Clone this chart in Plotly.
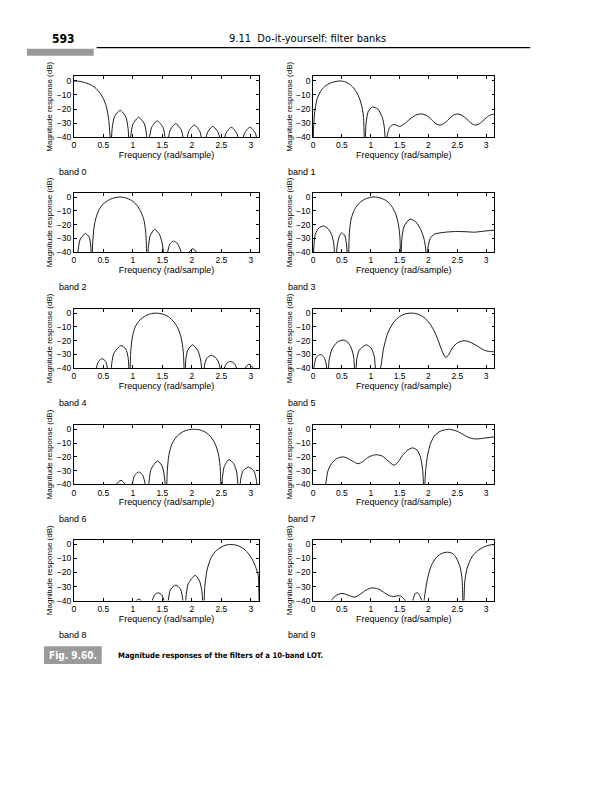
import math
import plotly.graph_objects as go

W, H = 608, 800

# ---------------- data (frequency in rad/sample, magnitude in dB) ----------------
band0_w = [0, 0.1, 0.2, 0.3, 0.38, 0.45, 0.5, 0.55, 0.59, 0.615, 0.628,
           0.65, 0.69, 0.785, 0.88, 0.92, 0.942,
           0.965, 1.005, 1.10, 1.195, 1.235, 1.257,
           1.28, 1.32, 1.414, 1.51, 1.55, 1.571,
           1.594, 1.634, 1.728, 1.822, 1.862, 1.885,
           1.908, 1.948, 2.042, 2.136, 2.176, 2.199,
           2.222, 2.262, 2.356, 2.45, 2.49, 2.513,
           2.536, 2.576, 2.670, 2.764, 2.804, 2.827,
           2.85, 2.89, 2.985, 3.08, 3.115, 3.1416]
band0_db = [0, -0.3, -1.3, -3, -5.5, -9, -12.5, -18, -27, -40, -50,
            -34, -25.5, -21, -25.5, -34, -50,
            -39, -30.5, -26, -30.5, -39, -50,
            -41.5, -33, -28.5, -33, -41.5, -50,
            -43.5, -35, -30.5, -35, -43.5, -50,
            -44.5, -36, -31.5, -36, -44.5, -50,
            -45.5, -37, -32.5, -37, -45.5, -50,
            -46, -37.5, -33, -37.5, -46, -50,
            -46, -37.5, -33, -37.5, -46, -50]

band1_w = [0, 0.012, 0.03, 0.07, 0.13, 0.2, 0.3, 0.4, 0.47, 0.55, 0.63, 0.7, 0.76, 0.81, 0.85, 0.875, 0.895,
           0.92, 0.955, 1.03, 1.12, 1.2, 1.235, 1.265,
           1.29, 1.33, 1.4, 1.5, 1.6, 1.7, 1.8, 1.88, 1.96, 2.05, 2.13, 2.2, 2.28, 2.37, 2.45, 2.51,
           2.58, 2.67, 2.75, 2.82, 2.9, 2.98, 3.06, 3.1416]
band1_db = [-48, -32, -22, -13, -7.5, -4, -1.5, -0.3, 0, -0.5, -2.2, -4.8, -8.5, -13, -19, -26, -50,
            -30, -22, -18.5, -20, -26, -33, -50,
            -38, -33, -31, -32.5, -30, -26.5, -24, -23.5, -24.5, -27.5, -30.5, -31.5, -30, -26.5, -24, -23.5,
            -24.5, -27.5, -30.5, -31.5, -30, -27, -24.5, -23.5]

band2_w = [0, 0.04, 0.075, 0.11, 0.2, 0.26, 0.285, 0.305,
           0.32, 0.34, 0.37, 0.43, 0.5, 0.6, 0.7, 0.78, 0.88, 0.98, 1.07, 1.14, 1.19, 1.22, 1.245,
           1.265, 1.295, 1.37, 1.45, 1.5, 1.545,
           1.59, 1.63, 1.69, 1.76, 1.82, 1.865,
           1.95, 2.02, 2.08, 2.17, 3.1416]
band2_db = [-55, -48, -38, -30.5, -26.5, -29, -34, -50,
            -34, -23, -16, -9, -5, -2, -0.4, 0, -0.6, -2.5, -6, -11, -17, -26, -50,
            -36, -28, -23.5, -27, -34, -50,
            -40, -34, -32, -34, -40, -50,
            -40, -37.5, -40, -50, -50]

band3_w = [0, 0.015, 0.04, 0.1, 0.18, 0.26, 0.32, 0.36, 0.385,
           0.42, 0.46, 0.5, 0.55, 0.58, 0.61,
           0.63, 0.66, 0.72, 0.8, 0.9, 1.0, 1.08, 1.18, 1.28, 1.36, 1.43, 1.48, 1.505, 1.52,
           1.54, 1.58, 1.68, 1.78, 1.86, 1.92, 1.95, 1.97,
           1.99, 2.03, 2.1, 2.2, 2.35, 2.5, 2.65, 2.8, 2.95, 3.1416]
band3_db = [-48, -36, -27, -22.5, -21, -23, -27, -34, -50,
            -35, -28, -26, -28, -34, -50,
            -26, -16, -9, -4.5, -1.5, -0.2, 0, -0.8, -3, -6.5, -12, -20, -29, -50,
            -30, -21, -16, -18, -23, -30, -37, -50,
            -37, -30, -27, -26, -25.3, -25, -25.2, -25.5, -24.8, -24]

band4_w = [0, 0.31, 0.38, 0.42, 0.48, 0.54, 0.57, 0.615,
           0.645, 0.68, 0.8, 0.88, 0.92, 0.945,
           0.965, 0.99, 1.04, 1.12, 1.22, 1.32, 1.4, 1.5, 1.6, 1.7, 1.77, 1.82, 1.855, 1.88,
           1.9, 1.93, 2.01, 2.1, 2.15, 2.19,
           2.215, 2.25, 2.33, 2.42, 2.47, 2.5,
           2.55, 2.59, 2.65, 2.72, 2.76, 2.82,
           2.9, 2.97, 3.04, 3.1416]
band4_db = [-50, -50, -40, -35, -33, -35, -40, -50,
            -36, -29, -23.5, -26, -32, -50,
            -28, -18, -10, -5, -1.8, -0.3, 0, -0.6, -2.5, -6.5, -11.5, -18, -28, -50,
            -33, -27, -23, -27, -34, -50,
            -38, -33, -30.5, -33, -38, -50,
            -40, -36.5, -35, -36.5, -40, -50,
            -40, -37, -40, -50]

band5_w = [0, 0.02, 0.06, 0.13, 0.19, 0.23, 0.255,
           0.28, 0.33, 0.42, 0.52, 0.6, 0.66, 0.705, 0.73,
           0.76, 0.8, 0.92, 1.0, 1.06, 1.1,
           1.17, 1.22, 1.3, 1.4, 1.5, 1.6, 1.72, 1.82, 1.92, 2.02, 2.1, 2.17, 2.23, 2.29, 2.31,
           2.35, 2.42, 2.5, 2.62, 2.72, 2.85, 2.97, 3.06, 3.1416]
band5_db = [-48, -38, -32, -30, -32, -37, -50,
            -34, -26, -21, -19.5, -21, -25, -32, -50,
            -33, -27, -23, -25, -31, -50,
            -40, -26, -14, -6.5, -2.5, -0.5, 0, -0.8, -3, -7.5, -13, -20, -27, -31.8, -32,
            -30, -25, -21.5, -20, -21, -24, -27, -27.8, -28]

band6_w = [0, 0.66, 0.72, 0.8, 0.87, 0.94,
           0.99, 1.03, 1.1, 1.17, 1.21, 1.25,
           1.27, 1.31, 1.42, 1.5, 1.54, 1.565,
           1.585, 1.61, 1.66, 1.74, 1.84, 1.94, 2.04, 2.14, 2.24, 2.33, 2.4, 2.45, 2.48, 2.5,
           2.52, 2.55, 2.63, 2.71, 2.76, 2.8,
           2.83, 2.87, 2.96, 3.05, 3.09, 3.13]
band6_db = [-50, -50, -40, -37, -40, -50,
            -40, -33.5, -31, -33.5, -40, -50,
            -40, -29, -23, -27, -36, -50,
            -30, -19, -11, -5.5, -2, -0.4, 0, -0.5, -2.3, -6, -11, -18, -27, -50,
            -35, -27, -22, -25, -31, -50,
            -36, -30, -27.5, -30, -36, -50]

band7_w = [0, 0.18, 0.22, 0.26, 0.32, 0.4, 0.52, 0.62, 0.7, 0.78, 0.86, 0.95, 1.05, 1.12, 1.2, 1.3,
           1.4, 1.46, 1.55, 1.63, 1.72, 1.8, 1.86, 1.9, 1.925,
           1.95, 1.98, 2.03, 2.1, 2.2, 2.35, 2.5, 2.6, 2.7, 2.8, 2.9, 3.0, 3.1416]
band7_db = [-50, -50, -40, -30, -25, -21.5, -20, -21.5, -23.5, -25, -23.5, -20.5, -18.7, -18.5, -19.5, -23,
            -26, -24.5, -19, -15.5, -13.5, -15, -20, -30, -50,
            -30, -20, -11, -5, -1.5, 0, -1.5, -3.8, -6, -7, -6.8, -6.2, -5.5]

band8_w = [0, 1.0, 1.06, 1.1, 1.14, 1.22,
           1.33, 1.37, 1.43, 1.49, 1.53, 1.57,
           1.6, 1.64, 1.73, 1.81, 1.85, 1.885,
           1.9, 1.94, 2.06, 2.13, 2.17, 2.2,
           2.22, 2.26, 2.32, 2.4, 2.5, 2.58, 2.66, 2.76, 2.86, 2.95, 3.03, 3.09, 3.125, 3.1416]
band8_db = [-50, -50, -40, -39, -40, -50,
            -40, -36, -34.5, -36, -40, -50,
            -40, -32, -29, -32, -40, -50,
            -38, -28, -22, -26, -33, -50,
            -30, -18, -10, -5, -1.8, -0.4, 0, -0.6, -2.5, -6, -11, -17, -22, -48]

band9_w = [0, 0.25, 0.32, 0.38, 0.45, 0.52, 0.6, 0.72, 0.82, 0.92, 1.02, 1.12, 1.22, 1.32, 1.4, 1.47,
           1.52, 1.58, 1.62, 1.68,
           1.73, 1.77, 1.81, 1.85, 1.88, 1.9,
           1.93, 1.98, 2.05, 2.14, 2.24, 2.33, 2.42, 2.48, 2.54, 2.58, 2.605,
           2.63, 2.67, 2.75, 2.85, 2.95, 3.05, 3.1416]
band9_db = [-50, -50, -40, -37, -35.3, -35, -36, -37.6, -35.5, -32.5, -31, -31.6, -34, -36.5, -37.2, -36.5,
            -36.8, -39, -42, -50,
            -40, -35, -34.5, -36.5, -40, -50,
            -38, -25, -15, -9, -6.2, -5.5, -6.5, -9.5, -15, -24, -50,
            -26, -17, -9, -4.5, -2, -0.5, 0]

bands_w = [band0_w, band1_w, band2_w, band3_w, band4_w, band5_w, band6_w, band7_w, band8_w, band9_w]
bands_db = [band0_db, band1_db, band2_db, band3_db, band4_db, band5_db, band6_db, band7_db, band8_db, band9_db]
band_labels = ["band 0", "band 1", "band 2", "band 3", "band 4",
               "band 5", "band 6", "band 7", "band 8", "band 9"]

x_ticks = [0, 0.5, 1, 1.5, 2, 2.5, 3]
x_tick_labels = ["0", "0.5", "1", "1.5", "2", "2.5", "3"]
y_ticks = [0, -10, -20, -30, -40]
y_tick_labels = ["0", "\u221210", "\u221220", "\u221230", "\u221240"]

x_title = "Frequency (rad/sample)"
y_title = "Magnitude response (dB)"
page_number = "593"
header_text = "9.11  Do-it-yourself: filter banks"
fig_tag = "Fig. 9.60."
caption_text = "Magnitude responses of the filters of a 10-band LOT."

# ---------------- layout (page pixels) ----------------
col_px = [(72, 258), (312, 494)]
row_px = [(76, 137), (193, 253), (310, 370), (427, 487), (543, 604)]
band_label_dx = [55, 285]
band_label_dy = 35
PAGE_OFFSET = 8  # the browser's default body margin

AX_FAMILY = "Liberation Sans, Arial, sans-serif"
TICK_FONT = dict(family=AX_FAMILY, size=8.5, color="black")
XTITLE_FONT = dict(family=AX_FAMILY, size=9, color="black")
YTITLE_FONT = dict(family=AX_FAMILY, size=8, color="black")
HDR_FONT = "Liberation Sans Narrow, DejaVu Sans Condensed, Open Sans, sans-serif"


def px_x(x):
    return (x - PAGE_OFFSET) / W


def px_y(y):
    return 1 - (y - PAGE_OFFSET) / H


fig = go.Figure()
annotations = []
for i in range(10):
    r, c = divmod(i, 2)
    n = i + 1
    xa = "x" if n == 1 else f"x{n}"
    ya = "y" if n == 1 else f"y{n}"
    fig.add_trace(go.Scatter(
        x=bands_w[i], y=bands_db[i], mode="lines",
        line=dict(color="black", width=0.9, shape="spline", smoothing=0.7),
        xaxis=xa, yaxis=ya, showlegend=False, hoverinfo="skip"))
    x0, x1 = col_px[c]
    y0, y1 = row_px[r]
    xkey = "xaxis" if n == 1 else f"xaxis{n}"
    ykey = "yaxis" if n == 1 else f"yaxis{n}"
    fig.layout[xkey] = dict(
        domain=[px_x(x0), px_x(x1)], anchor=ya, range=[0, math.pi],
        tickmode="array", tickvals=x_ticks, ticktext=x_tick_labels,
        ticks="inside", ticklen=3, tickwidth=0.8, tickcolor="black",
        showline=True, linecolor="black", linewidth=0.8, mirror="ticks",
        showgrid=False, zeroline=False, tickfont=TICK_FONT,
        title=dict(text=x_title, font=XTITLE_FONT, standoff=2))
    fig.layout[ykey] = dict(
        domain=[px_y(y1), px_y(y0)], anchor=xa, range=[-40, 3.2],
        tickmode="array", tickvals=y_ticks, ticktext=y_tick_labels,
        ticks="inside", ticklen=3, tickwidth=0.8, tickcolor="black",
        showline=True, linecolor="black", linewidth=0.8, mirror="ticks",
        showgrid=False, zeroline=False, tickfont=TICK_FONT,
        title=dict(text=y_title, font=YTITLE_FONT, standoff=2))
    annotations.append(dict(
        text=band_labels[i], xref="paper", yref="paper",
        x=px_x(band_label_dx[c]), y=px_y(y1 + band_label_dy),
        xanchor="left", yanchor="middle", showarrow=False,
        font=dict(family=AX_FAMILY, size=9, color="black")))

# header
annotations.append(dict(text=f"<b>{page_number}</b>", xref="paper", yref="paper",
                        x=px_x(48), y=px_y(38), xanchor="left", yanchor="middle", showarrow=False,
                        font=dict(family=HDR_FONT, size=12, color="black")))
annotations.append(dict(text=header_text, xref="paper", yref="paper",
                        x=px_x(306), y=px_y(38), xanchor="center", yanchor="middle", showarrow=False,
                        font=dict(family=HDR_FONT, size=11, color="black")))
# caption
annotations.append(dict(text=f"<b>{fig_tag}</b>", xref="paper", yref="paper",
                        x=px_x(71), y=px_y(659), xanchor="center", yanchor="middle", showarrow=False,
                        font=dict(family=HDR_FONT, size=10, color="white")))
annotations.append(dict(text=f"<b>{caption_text}</b>", xref="paper", yref="paper",
                        x=px_x(114), y=px_y(659), xanchor="left", yanchor="middle", showarrow=False,
                        font=dict(family=HDR_FONT, size=7.7, color="black")))

shapes = [
    dict(type="line", xref="paper", yref="paper", x0=px_x(95), x1=px_x(530), y0=px_y(47), y1=px_y(47),
         line=dict(color="black", width=1.2)),
    dict(type="rect", xref="paper", yref="paper", x0=px_x(25), x1=px_x(92), y0=px_y(55), y1=px_y(48),
         fillcolor="#9a9a9a", line=dict(width=0)),
    dict(type="rect", xref="paper", yref="paper", x0=px_x(42), x1=px_x(100), y0=px_y(668), y1=px_y(650),
         fillcolor="#9a9a9a", line=dict(width=0)),
]

fig.update_layout(
    width=W, height=H, margin=dict(l=0, r=0, t=0, b=0),
    paper_bgcolor="white", plot_bgcolor="white",
    annotations=annotations, shapes=shapes, showlegend=False)

fig.write_html("out.html")
